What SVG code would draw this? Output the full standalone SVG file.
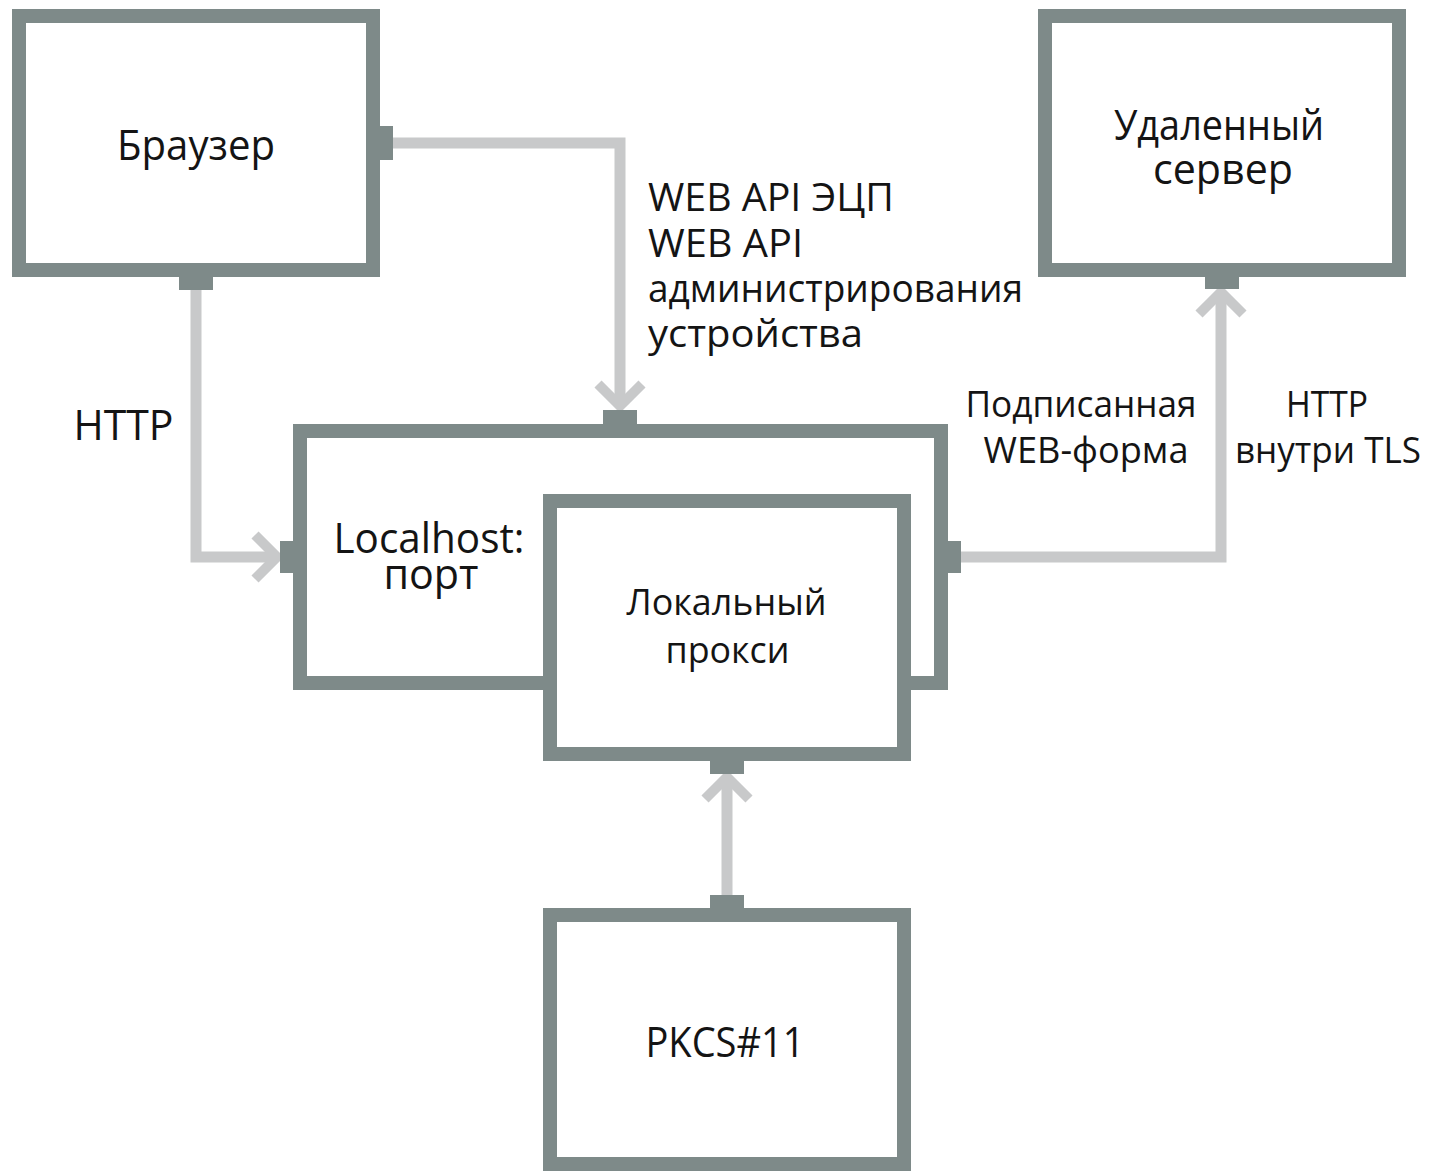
<svg xmlns="http://www.w3.org/2000/svg" width="1430" height="1171" viewBox="0 0 1430 1171">
<style>
.box{fill:#ffffff;stroke:#7e8a89;stroke-width:14}
.port{fill:#7e8a89}
.conn{fill:none;stroke:#c8c9ca;stroke-width:11;stroke-linejoin:miter}
text{font-family:"Open Sans","Noto Sans","Liberation Sans",sans-serif;fill:#141414}
.big{font-size:42px;text-anchor:middle}
.mid{font-size:36px;text-anchor:middle}
.lbl{font-size:38px}
</style>
<defs>
<marker id="chev" markerUnits="userSpaceOnUse" viewBox="-32 -30 40 60" refX="0" refY="0" markerWidth="40" markerHeight="60" orient="auto">
<path d="M-22,-22 L0,0 L-22,22" fill="none" stroke="#c8c9ca" stroke-width="10" stroke-linejoin="miter"/>
</marker>
</defs>
<g id="connectors">
<path class="conn" d="M393,143 H620 V406" marker-end="url(#chev)"/>
<path class="conn" d="M196,290 V557 H277" marker-end="url(#chev)"/>
<path class="conn" d="M961,557 H1221 V292" marker-end="url(#chev)"/>
<path class="conn" d="M727,895 V777" marker-end="url(#chev)"/>
<text class="lbl" x="648" y="211" textLength="246" lengthAdjust="spacingAndGlyphs">WEB API ЭЦП</text>
<text class="lbl" x="648" y="257" textLength="155" lengthAdjust="spacingAndGlyphs">WEB API</text>
<text class="lbl" x="648" y="302" textLength="375" lengthAdjust="spacingAndGlyphs">администрирования</text>
<text class="lbl" x="648" y="347" textLength="215" lengthAdjust="spacingAndGlyphs">устройства</text>
<text class="big" x="123.5" y="440" textLength="100" lengthAdjust="spacingAndGlyphs">HTTP</text>
<text class="mid" x="1081" y="417" textLength="231" lengthAdjust="spacingAndGlyphs">Подписанная</text>
<text class="mid" x="1086" y="463" textLength="205" lengthAdjust="spacingAndGlyphs">WEB-форма</text>
<text class="mid" x="1327" y="417" textLength="82" lengthAdjust="spacingAndGlyphs">HTTP</text>
<text class="mid" x="1328" y="463" textLength="186" lengthAdjust="spacingAndGlyphs">внутри TLS</text>
</g>
<g id="browser">
<rect class="box" x="19" y="16" width="354" height="254"/>
<rect class="port" x="380" y="126" width="13" height="34"/>
<rect class="port" x="179" y="277" width="34" height="13"/>
<text class="big" x="196" y="160" textLength="158" lengthAdjust="spacingAndGlyphs">Браузер</text>
</g>
<g id="remote-server">
<rect class="box" x="1045" y="16" width="354" height="254"/>
<rect class="port" x="1205" y="277" width="34" height="12"/>
<text class="big" x="1219" y="140" textLength="210" lengthAdjust="spacingAndGlyphs">Удаленный</text>
<text class="big" x="1223" y="184" textLength="140" lengthAdjust="spacingAndGlyphs">сервер</text>
</g>
<g id="localhost">
<rect class="box" x="300" y="431" width="641" height="252"/>
<rect class="port" x="603" y="410" width="34" height="14"/>
<rect class="port" x="280" y="541" width="13" height="32"/>
<rect class="port" x="948" y="541" width="13" height="32"/>
<text class="big" x="429" y="553" font-size="40" textLength="191" lengthAdjust="spacingAndGlyphs">Localhost:</text>
<text class="big" x="431" y="589" font-size="40" textLength="95" lengthAdjust="spacingAndGlyphs">порт</text>
</g>
<g id="local-proxy">
<rect class="box" x="550" y="501" width="354" height="253"/>
<rect class="port" x="710" y="761" width="34" height="13"/>
<text class="mid" x="726.5" y="615" textLength="200" lengthAdjust="spacingAndGlyphs">Локальный</text>
<text class="mid" x="727.5" y="663" textLength="124" lengthAdjust="spacingAndGlyphs">прокси</text>
</g>
<g id="pkcs11">
<rect class="box" x="550" y="915" width="354" height="249"/>
<rect class="port" x="710" y="895" width="34" height="13"/>
<text class="big" x="725" y="1057" textLength="159" lengthAdjust="spacingAndGlyphs">PKCS#11</text>
</g>
</svg>
